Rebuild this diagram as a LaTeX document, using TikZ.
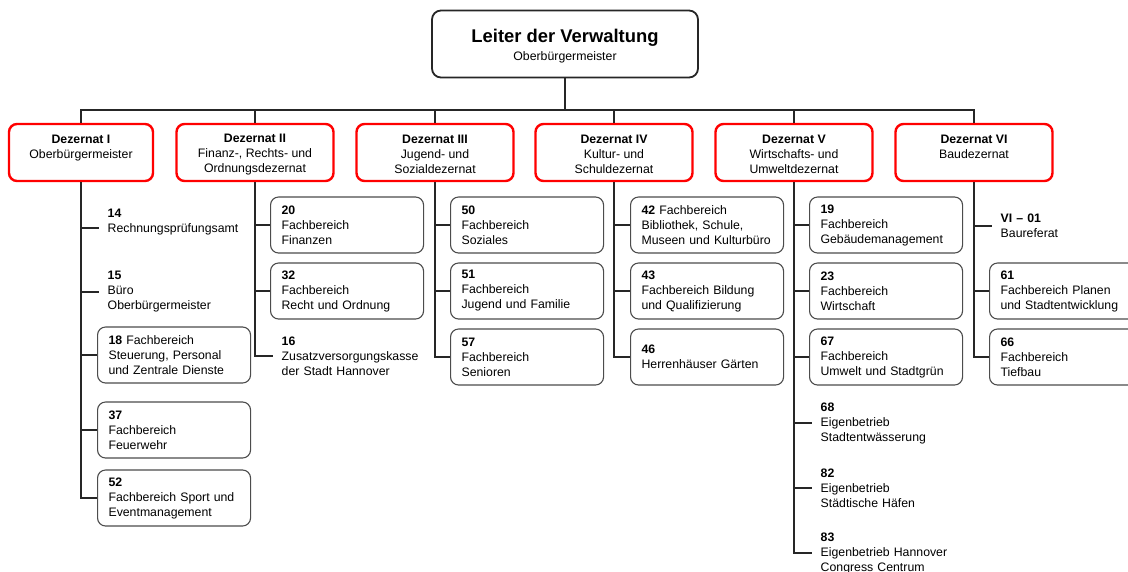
\documentclass[tikz,border=0pt]{standalone}
\usepackage{fontspec}
\setmainfont{Liberation Sans}
\begin{document}
\begin{tikzpicture}[x=1pt,y=-1pt,
  every node/.style={font=\fontsize{12.3}{15}\selectfont, text=black},
  topbox/.style={draw=black!85, line width=1.8pt, rounded corners=9pt, minimum width=266pt, minimum height=67pt, align=center, inner sep=0pt},
  dezbox/.style={draw=red, line width=2.4pt, rounded corners=8pt, minimum height=57pt, minimum width=157pt, align=center, inner sep=0pt},
  itembox/.style={draw=black!70, line width=1.1pt, rounded corners=8pt, minimum height=56pt, anchor=west, text width=131pt, inner xsep=11pt, inner ysep=0pt, align=left},
  plainitem/.style={anchor=west, text width=150pt, inner xsep=8.5pt, inner ysep=0pt, align=left},
  link/.style={draw=black!85, line width=1.3pt}
]
\useasboundingbox (0,0) rectangle (1128,571);
\clip (0,0) rectangle (1128,571);

% top
\node[topbox] (top) at (565,44) {\rule{0pt}{17pt}{\fontsize{18.4}{20}\selectfont\bfseries Leiter der Verwaltung}\\[3pt]Oberbürgermeister};

% Dezernate
\newcommand{\dzs}{\rule{0pt}{12.5pt}}
\node[dezbox, minimum width=144pt] (d1) at (81,152.5) {\dzs\textbf{Dezernat I}\\Oberbürgermeister\\\mbox{}};
\node[dezbox] (d2) at (255,152.5) {\dzs\textbf{Dezernat II}\\Finanz-, Rechts- und\\Ordnungsdezernat};
\node[dezbox] (d3) at (435,152.5) {\dzs\textbf{Dezernat III}\\Jugend- und\\Sozialdezernat};
\node[dezbox] (d4) at (614,152.5) {\dzs\textbf{Dezernat IV}\\Kultur- und\\Schuldezernat};
\node[dezbox] (d5) at (794,152.5) {\dzs\textbf{Dezernat V}\\Wirtschafts- und\\Umweltdezernat};
\node[dezbox] (d6) at (974,152.5) {\dzs\textbf{Dezernat VI}\\Baudezernat\\\mbox{}};

\coordinate (bus) at (565,110);
\draw[link] (top.south) -- (bus);
\foreach \d in {d1,d2,d3,d4,d5,d6} {\draw[link] (bus) -| (\d.north);}

% Column I
\node[plainitem] (n14) at (99,228) {\textbf{14}\\Rechnungsprüfungsamt\\\mbox{}};
\node[plainitem] (n15) at (99,292) {\textbf{15}\\Büro\\Oberbürgermeister};
\node[itembox] (n18) at (97,355) {\textbf{18} Fachbereich\\Steuerung, Personal\\und Zentrale Dienste};
\node[itembox] (n37) at (97,430) {\textbf{37}\\Fachbereich\\Feuerwehr};
\node[itembox] (n52) at (97,498) {\textbf{52}\\Fachbereich Sport und\\Eventmanagement};
\foreach \n in {n14,n15,n18,n37,n52} {\draw[link] (d1.south) |- (\n.west);}

% Column II
\node[itembox] (n20) at (270,225) {\textbf{20}\\Fachbereich\\Finanzen};
\node[itembox] (n32) at (270,291) {\textbf{32}\\Fachbereich\\Recht und Ordnung};
\node[plainitem] (n16) at (273,356) {\textbf{16}\\Zusatzversorgungskasse\\der Stadt Hannover};
\foreach \n in {n20,n32,n16} {\draw[link] (d2.south) |- (\n.west);}

% Column III
\node[itembox] (n50) at (450,225) {\textbf{50}\\Fachbereich\\Soziales};
\node[itembox] (n51) at (450,291) {\textbf{51}\\Fachbereich\\Jugend und Familie};
\node[itembox] (n57) at (450,357) {\textbf{57}\\Fachbereich\\Senioren};
\foreach \n in {n50,n51,n57} {\draw[link] (d3.south) |- (\n.west);}

% Column IV
\node[itembox] (n42) at (630,225) {\textbf{42} Fachbereich\\Bibliothek, Schule,\\Museen und Kulturbüro};
\node[itembox] (n43) at (630,291) {\textbf{43}\\Fachbereich Bildung\\und Qualifizierung};
\node[itembox] (n46) at (630,357) {\textbf{46}\\Herrenhäuser Gärten};
\foreach \n in {n42,n43,n46} {\draw[link] (d4.south) |- (\n.west);}

% Column V
\node[itembox] (n19) at (809,225) {\textbf{19}\\Fachbereich\\Gebäudemanagement};
\node[itembox] (n23) at (809,291) {\textbf{23}\\Fachbereich\\Wirtschaft};
\node[itembox] (n67) at (809,357) {\textbf{67}\\Fachbereich\\Umwelt und Stadtgrün};
\node[plainitem] (n68) at (812,423) {\textbf{68}\\Eigenbetrieb\\Stadtentwässerung};
\node[plainitem] (n82) at (812,488) {\textbf{82}\\Eigenbetrieb\\Städtische Häfen};
\node[plainitem] (n83) at (812,553) {\textbf{83}\\Eigenbetrieb Hannover\\Congress Centrum};
\foreach \n in {n19,n23,n67,n68,n82,n83} {\draw[link] (d5.south) |- (\n.west);}

% Column VI
\node[plainitem] (n601) at (992,226) {\textbf{VI – 01}\\Baureferat};
\node[itembox] (n61) at (989,291) {\textbf{61}\\Fachbereich Planen\\und Stadtentwicklung};
\node[itembox] (n66) at (989,357) {\textbf{66}\\Fachbereich\\Tiefbau};
\foreach \n in {n601,n61,n66} {\draw[link] (d6.south) |- (\n.west);}
\end{tikzpicture}
\end{document}
